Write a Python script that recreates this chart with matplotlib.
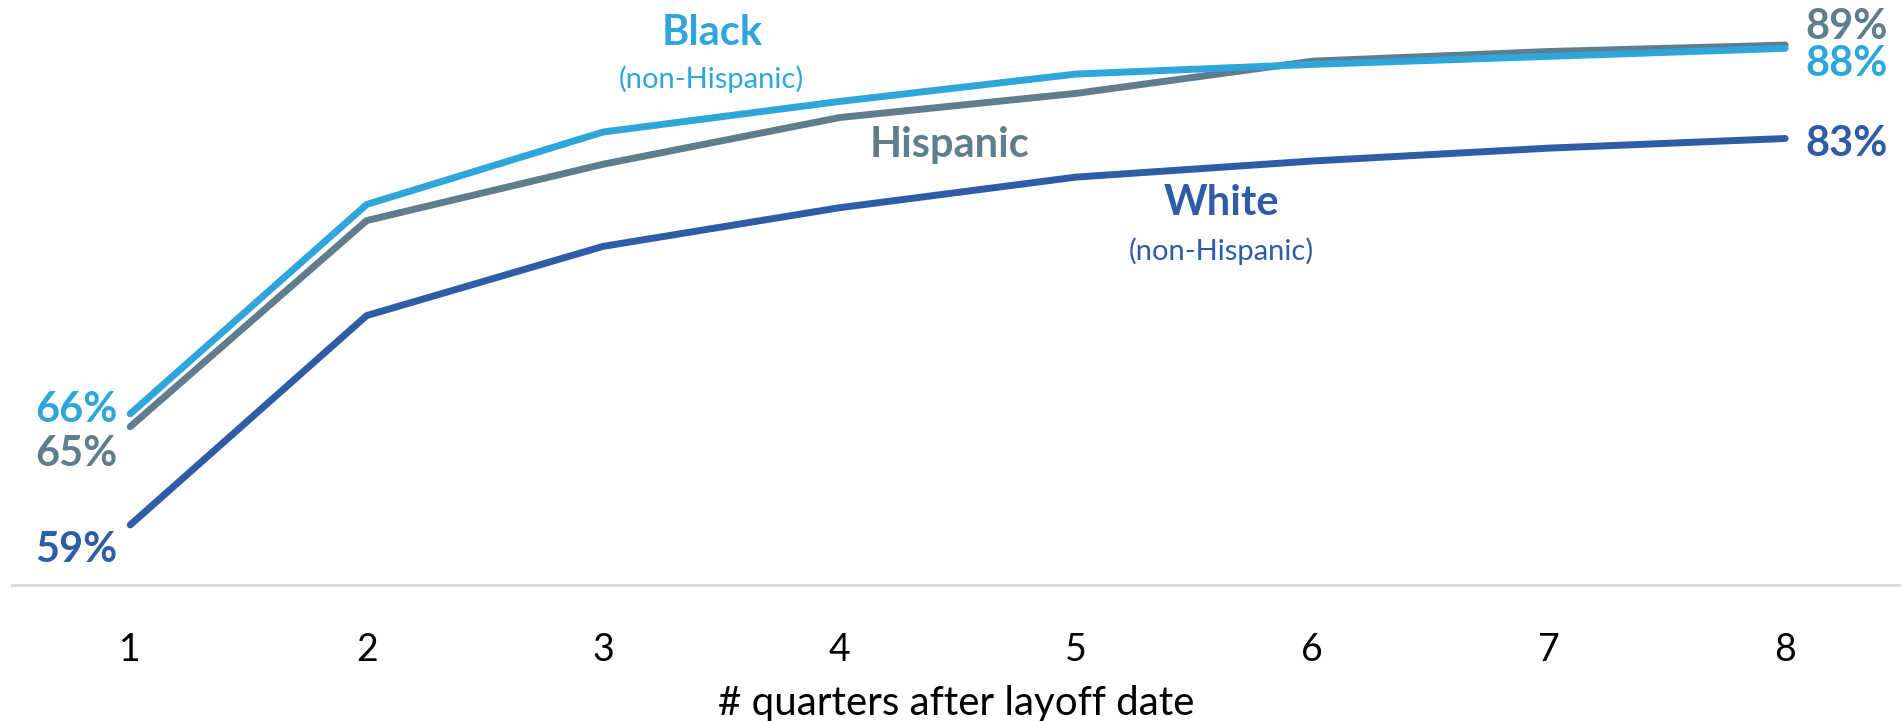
import matplotlib
matplotlib.use("Agg")
import matplotlib.pyplot as plt

plt.rcParams['font.family'] = ['Lato', 'DejaVu Sans']

quarters = [1, 2, 3, 4, 5, 6, 7, 8]
black = [65.9, 78.9, 83.4, 85.3, 87.0, 87.6, 88.1, 88.6]
hispanic = [65.1, 77.9, 81.4, 84.3, 85.8, 87.8, 88.4, 88.8]
white = [59.0, 72.0, 76.3, 78.7, 80.6, 81.6, 82.4, 83.0]

c_black = '#2ea6dc'
c_hisp = '#5f7d8c'
c_white = '#2e5ca6'

fig = plt.figure(figsize=(19.01, 7.21), dpi=100)
ax = fig.add_axes([12 / 1901, 1 - 585 / 721, 1 - 12 / 1901, 585 / 721])

for vals, col in [(white, c_white), (hispanic, c_hisp), (black, c_black)]:
    ax.plot(quarters, vals, color=col, lw=5, solid_capstyle='round',
            solid_joinstyle='round')

ax.set_xlim(0.5, 8.49)
ax.set_ylim(55.27, 91.6)

for s in ['top', 'left', 'right']:
    ax.spines[s].set_visible(False)
ax.spines['bottom'].set_color('#d9d9d9')
ax.spines['bottom'].set_linewidth(2)
ax.set_yticks([])
ax.set_xticks(quarters)
ax.tick_params(axis='x', length=0, labelsize=27, pad=34)
ax.set_xlabel('# quarters after layoff date', fontsize=29, labelpad=12)

# end labels
lab = dict(fontsize=30, fontweight='bold', va='baseline')
ax.text(0.945, 65.40, '66%', color=c_black, ha='right', **lab)
ax.text(0.945, 62.66, '65%', color=c_hisp, ha='right', **lab)
ax.text(0.945, 56.70, '59%', color=c_white, ha='right', **lab)
ax.text(8.085, 89.19, '89%', color=c_hisp, ha='left', **lab)
ax.text(8.085, 86.89, '88%', color=c_black, ha='left', **lab)
ax.text(8.085, 81.92, '83%', color=c_white, ha='left', **lab)

# series names
ax.text(3.46, 88.81, 'Black', color=c_black, ha='center', **lab)
ax.text(3.46, 86.14, '(non-Hispanic)', color=c_black, ha='center',
        va='baseline', fontsize=21)
ax.text(4.465, 81.86, 'Hispanic', color=c_hisp, ha='center', **lab)
ax.text(5.615, 78.25, 'White', color=c_white, ha='center', **lab)
ax.text(5.615, 75.46, '(non-Hispanic)', color=c_white, ha='center',
        va='baseline', fontsize=21)

fig.savefig('out.png', dpi=100)
